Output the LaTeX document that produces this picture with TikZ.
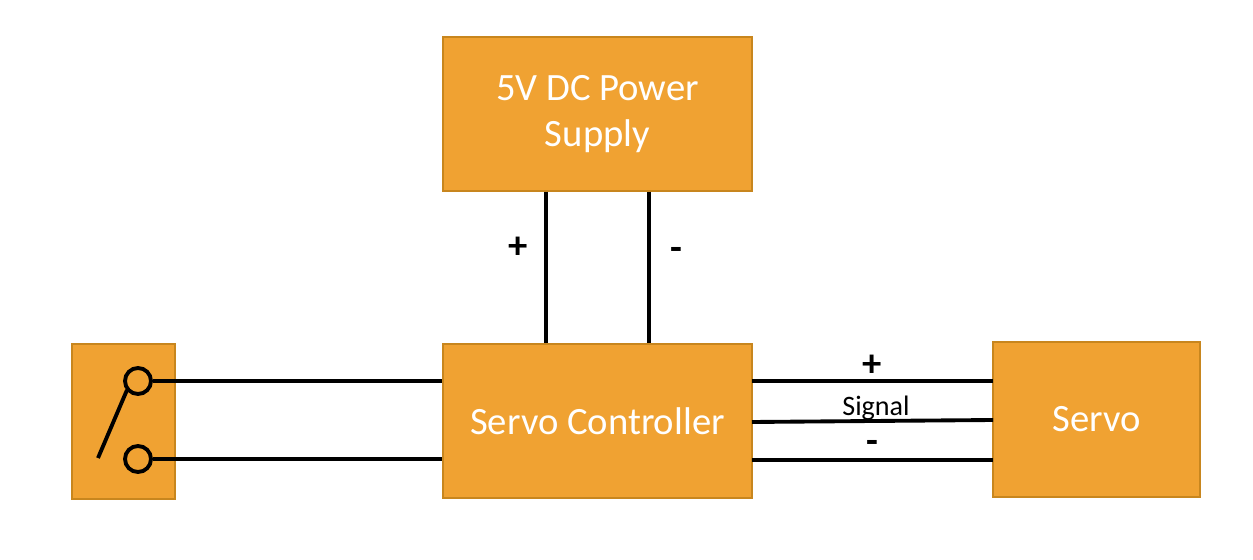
\documentclass[tikz,border=0pt]{standalone}
\usepackage{fontspec}
\setmainfont{Carlito}
\begin{document}
\begin{tikzpicture}[x=0.02cm,y=-0.02cm,
  box/.style={draw=boxedge,fill=boxfill,line width=0.8pt,text=white,font=\fontsize{22}{26}\selectfont,align=center,inner sep=0pt},
  wire/.style={line width=2.2pt,black},
  lbl/.style={font=\fontsize{16}{18}\selectfont,inner sep=0pt},
  sign/.style={font=\bfseries\fontsize{22}{24}\selectfont,inner sep=0pt}]
\definecolor{boxfill}{HTML}{F0A232}
\definecolor{boxedge}{HTML}{C8861E}
\useasboundingbox (0,0) rectangle (1253,560);
\node[box,minimum width=309*0.02cm,minimum height=154*0.02cm] (ps) at (597.5,114) {5V DC Power\\Supply};
\node[box,minimum width=309*0.02cm,minimum height=154*0.02cm] (sc) at (597.5,421) {Servo Controller};
\node[box,minimum width=207*0.02cm,minimum height=155*0.02cm] (sv) at (1096.5,419.5) {Servo};
\node[box,minimum width=103*0.02cm,minimum height=155*0.02cm] (sw) at (123.5,421.5) {};
\node[circle,draw,line width=2.2pt,fill=boxfill,minimum size=26*0.02cm,inner sep=0pt] (c1) at (138,381) {};
\node[circle,draw,line width=2.2pt,fill=boxfill,minimum size=26*0.02cm,inner sep=0pt] (c2) at (138,459) {};
\coordinate (b1) at (98,458);
\coordinate (b2) at (127,390);
\draw[wire] (b1) -- (b2);
\draw[wire] (c1.east) -- (sc.west |- c1.east);
\draw[wire] (c2.east) -- (sc.west |- c2.east);
\draw[wire] (ps.south -| 546,0) -- (sc.north -| 546,0);
\draw[wire] (ps.south -| 649,0) -- (sc.north -| 649,0);
\node[sign] (lp) at (518,248) {+};
\node[sign] (lm) at (676,254) {-};
\coordinate (r1) at (752,381); \coordinate (r1e) at (993,381);
\coordinate (r2) at (752,422); \coordinate (r2e) at (993,420);
\coordinate (r3) at (752,460); \coordinate (r3e) at (993,460);
\draw[wire] (r1) -- (r1e);
\draw[wire] (r2) -- (r2e);
\draw[wire] (r3) -- (r3e);
\node[sign] (sp) at (872,366) {+};
\node[lbl] (sg) at (876,408) {Signal};
\node[sign] (sm) at (872,447) {-};
\end{tikzpicture}
\end{document}
